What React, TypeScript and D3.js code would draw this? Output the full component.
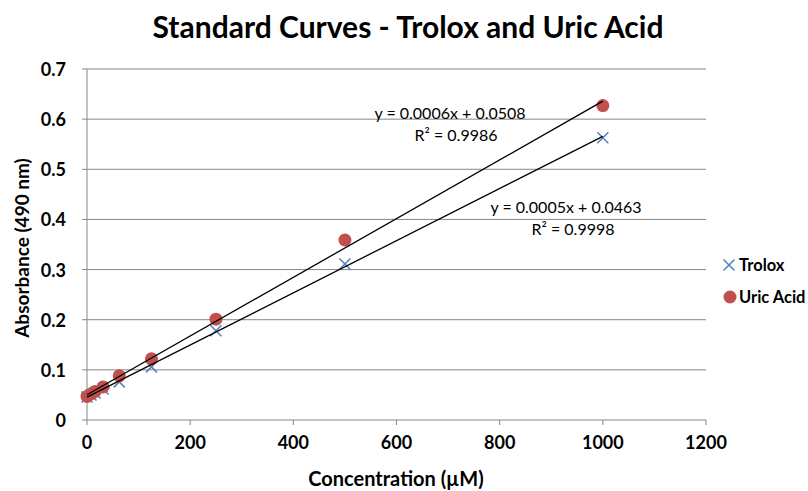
import React from "react";
import * as d3 from "d3";

const concentrations = [0, 7.8, 15.6, 31.25, 62.5, 125, 250, 500, 1000];
const troloxValues = [0.046, 0.05, 0.054, 0.062, 0.076, 0.106, 0.178, 0.311, 0.563];
const uricValues = [0.047, 0.052, 0.057, 0.066, 0.088, 0.122, 0.201, 0.359, 0.627];
const xTicks = [0, 200, 400, 600, 800, 1000, 1200];
const yTicks = [0, 0.1, 0.2, 0.3, 0.4, 0.5, 0.6, 0.7];

const W = 808;
const H = 491;
const FONT = "Lato, 'Open Sans', sans-serif";
const BLUE = "#4F81BD";
const RED = "#C0504D";

function fit(xs: number[], ys: number[]) {
  const mx = d3.mean(xs)!;
  const my = d3.mean(ys)!;
  let num = 0, den = 0;
  xs.forEach((x, i) => {
    num += (x - mx) * (ys[i] - my);
    den += (x - mx) * (x - mx);
  });
  const slope = num / den;
  return { slope, intercept: my - slope * mx };
}

export default function App() {
  const x = d3.scaleLinear().domain([0, 1200]).range([87, 706]);
  const y = d3.scaleLinear().domain([0, 0.7]).range([420, 69]);

  const troloxFit = fit(concentrations, troloxValues);
  const uricFit = fit(concentrations, uricValues);
  const trend = (f: { slope: number; intercept: number }) =>
    d3.line<number>().x((d) => x(d)).y((d) => y(f.slope * d + f.intercept))([0, 1000]) || "";

  const cross = (cx: number, cy: number, s: number) =>
    `M${cx - s},${cy - s}L${cx + s},${cy + s}M${cx - s},${cy + s}L${cx + s},${cy - s}`;

  return (
    <svg width={W} height={H} style={{ position: "absolute", left: 0, top: 0 }} fontFamily={FONT}>
      <rect width={W} height={H} fill="#fff" />
      <text x={408} y={38} textAnchor="middle" fontSize={30} fontWeight="bold">
        Standard Curves - Trolox and Uric Acid
      </text>
      {yTicks.map((t) => (
        <g key={t}>
          <line x1={82} x2={706} y1={y(t)} y2={y(t)} stroke="#868686" strokeWidth={1} />
          <text x={66} y={y(t) + 7} textAnchor="end" fontSize={18} fontWeight="bold">
            {t === 0 ? "0" : t.toFixed(1)}
          </text>
        </g>
      ))}
      <line x1={87} x2={87} y1={69} y2={420} stroke="#868686" />
      {xTicks.map((t) => (
        <g key={t}>
          <line x1={x(t)} x2={x(t)} y1={420} y2={425} stroke="#868686" />
          <text x={x(t)} y={449} textAnchor="middle" fontSize={18} fontWeight="bold">
            {t}
          </text>
        </g>
      ))}
      <text x={396} y={486} textAnchor="middle" fontSize={20} fontWeight="bold">
        Concentration (µM)
      </text>
      <text transform="translate(29,248) rotate(-90)" textAnchor="middle" fontSize={19} fontWeight="bold">
        Absorbance (490 nm)
      </text>

      {concentrations.map((c, i) => (
        <path key={"t" + i} d={cross(x(c), y(troloxValues[i]), 5.5)} stroke={BLUE} strokeWidth={1.5} fill="none" />
      ))}
      {concentrations.map((c, i) => (
        <circle key={"u" + i} cx={x(c)} cy={y(uricValues[i])} r={6.5} fill={RED} />
      ))}
      <path d={trend(uricFit)} stroke="#000" strokeWidth={1.3} fill="none" />
      <path d={trend(troloxFit)} stroke="#000" strokeWidth={1.3} fill="none" />

      <text x={450} y={119} textAnchor="middle" fontSize={16}>y = 0.0006x + 0.0508</text>
      <text x={456} y={141} textAnchor="middle" fontSize={16}>R² = 0.9986</text>
      <text x={566} y={213} textAnchor="middle" fontSize={16}>y = 0.0005x + 0.0463</text>
      <text x={573} y={235} textAnchor="middle" fontSize={16}>R² = 0.9998</text>

      <path d={cross(729, 265, 5.5)} stroke={BLUE} strokeWidth={1.5} fill="none" />
      <text x={739} y={271} fontSize={16.5} fontWeight="bold">Trolox</text>
      <circle cx={730} cy={297} r={6.5} fill={RED} />
      <text x={739} y={303} fontSize={16.5} fontWeight="bold">Uric Acid</text>
    </svg>
  );
}
